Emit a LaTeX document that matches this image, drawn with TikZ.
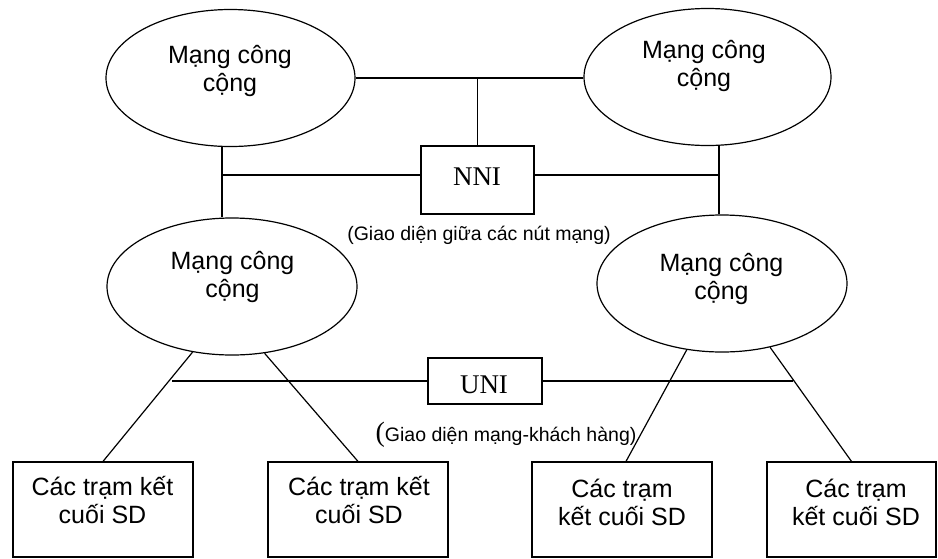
\documentclass[tikz,border=0pt]{standalone}
\usepackage{fontspec}
\setmainfont{Liberation Sans}
\newfontfamily\serifx{Liberation Serif}
\usetikzlibrary{shapes.geometric}
\newcommand\twol[2]{\begin{tabular}[t]{@{}c@{}}#1\\#2\end{tabular}}
\begin{document}
\begin{tikzpicture}[x=1pt,y=-1pt,line width=1.2pt,
  net/.style={ellipse,draw,inner sep=0pt,minimum height=137pt},
  boxx/.style={rectangle,draw,inner sep=0pt},
  lbl/.style={inner sep=0pt,anchor=base,font=\fontsize{25}{28}\selectfont},
  iface/.style={inner sep=0pt,font=\serifx\fontsize{27}{30}\selectfont},
  sub/.style={inner sep=0pt,font=\fontsize{19.5}{23}\selectfont}]
\useasboundingbox (0,0) rectangle (938,558);
% public networks
\node[net,minimum width=249pt] (e1) at (230.5,78) {};
\node[net,minimum width=247pt] (e2) at (707.5,77) {};
\node[net,minimum width=250pt] (e3) at (232,286.5) {};
\node[net,minimum width=250pt] (e4) at (722,283.5) {};
\node[lbl] (t1) at (230,63) {\twol{Mạng công}{cộng}};
\node[lbl] (t2) at (704,58) {\twol{Mạng công}{cộng}};
\node[lbl] (t3) at (232.5,269) {\twol{Mạng công}{cộng}};
\node[lbl] (t4) at (721.5,271) {\twol{Mạng công}{cộng}};
% NNI
\node[boxx,minimum width=113pt,minimum height=68pt] (nni) at (477.5,180) {};
\node[iface] (nnit) at (477,177) {NNI};
\node[sub,anchor=base] (nnis) at (479,240) {(Giao diện giữa các nút mạng)};
\draw (e1.east) -- (e1.east -| e2.west);
\draw (nni.north) -- (nni.north |- e1.east);
\coordinate (nl) at (222,175);
\coordinate (nr) at (719,175);
\draw (e1.south -| nl) -- (e3.north -| nl);
\draw (e2.south -| nr) -- (e4.north -| nr);
\draw (nl) -- (nl -| nni.west);
\draw (nr -| nni.east) -- (nr);
% UNI
\node[boxx,minimum width=114pt,minimum height=46pt] (uni) at (485,381) {};
\node[iface] (unit) at (484,384.5) {UNI};
\node[sub,anchor=base west] (unis) at (375,441) {{\serifx\fontsize{28}{30}\selectfont(}Giao diện mạng-khách hàng)};
\coordinate (ul) at (172,381);
\coordinate (ur) at (793,381);
\draw (ul) -- (uni.west);
\draw (uni.east) -- (ur);
% terminal stations
\node[boxx,minimum width=180pt,minimum height=95pt] (b1) at (103,509.5) {};
\node[boxx,minimum width=180pt,minimum height=95pt] (b2) at (358,509.5) {};
\node[boxx,minimum width=180pt,minimum height=95pt] (b3) at (622,509.5) {};
\node[boxx,minimum width=169pt,minimum height=95pt] (b4) at (851.5,509.5) {};
\node[lbl] (s1) at (102.5,495) {\twol{Các trạm kết}{cuối SD}};
\node[lbl] (s2) at (359,495) {\twol{Các trạm kết}{cuối SD}};
\node[lbl] (s3) at (622,497) {\twol{Các trạm}{kết cuối SD}};
\node[lbl] (s4) at (856,497) {\twol{Các trạm}{kết cuối SD}};
\draw (b1.north) -- (e3.239);
\draw (b2.north) -- (e3.296);
\draw ([xshift=4pt]b3.north) -- (e4.242);
\draw (b4.north) -- (e4.307);
\end{tikzpicture}
\end{document}
